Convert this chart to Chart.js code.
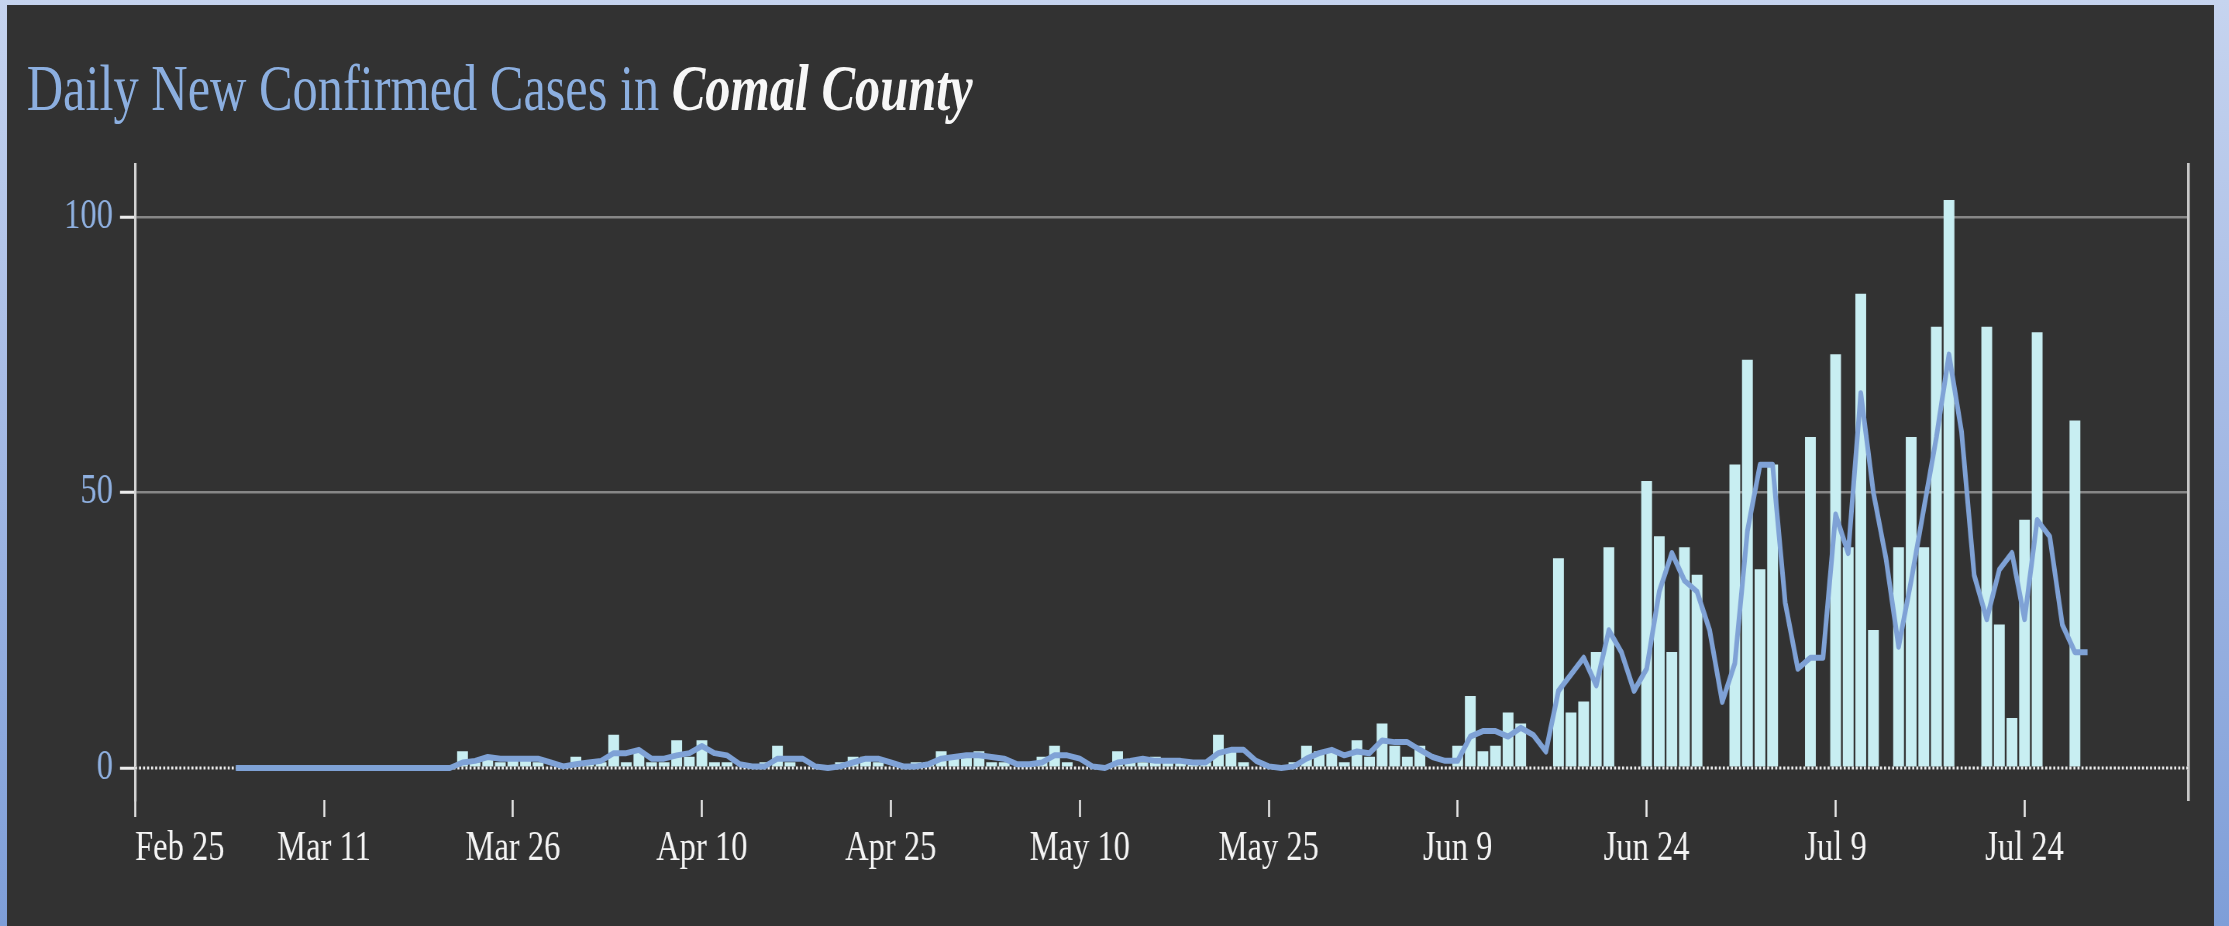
<!DOCTYPE html>
<html><head><meta charset="utf-8">
<script src="https://cdn.jsdelivr.net/npm/chart.js@4.4.1/dist/chart.umd.min.js"></script>
<style>
html,body{margin:0;padding:0;}
body{width:2229px;height:926px;overflow:hidden;position:relative;background:linear-gradient(180deg,#c6d4ef 0%,#a9bde6 40%,#7e9ed8 100%);}
#panel{position:absolute;left:7px;top:5px;width:2207px;height:921px;background:#323232;}
#wrap{position:absolute;left:0;top:0;width:2876px;height:926px;transform:scaleX(0.775);transform-origin:0 0;}
#title{position:absolute;left:34.5px;top:55.5px;font-family:'Liberation Serif','Times New Roman',serif;font-size:65px;line-height:65px;white-space:nowrap;color:#8cafe0;}
#title b{color:#f7f7f7;font-style:italic;font-weight:bold;}
canvas{position:absolute;left:0;top:0;}
</style></head>
<body>
<div id="panel"></div>
<div id="wrap">
<div id="title">Daily New Confirmed Cases in <b>Comal County</b></div>
<canvas id="c" width="2876" height="926" style="width:2876px;height:926px"></canvas>
</div>
<script>
// day numbers counted from Feb 25, 2020 (day 0)
const firstDataDay = 8; // Mar 4
const newCases = [
 0,0,0,0,0,0,0,0,0,0,
 0,0,0,0,0,0,0,0,3,1,
 2,1,2,2,1,0,0,2,1,1,
 6,1,3,1,1,5,2,5,1,1,
 0,0,1,4,1,0,0,0,1,2,
 2,1,0,0,1,1,3,2,2,3,
 1,1,0,1,2,4,1,0,0,0,
 3,1,1,2,1,1,1,1,6,3,
 1,0,0,0,1,4,3,3,1,5,
 2,8,4,2,4,0,0,4,13,3,
 4,10,8,0,0,38,10,12,21,40,
 0,0,52,42,21,40,35,0,0,55,
 74,36,55,0,0,60,0,75,40,86,
 25,0,40,60,40,80,103,0,0,80,
 26,9,45,79,0,0,63,0
];
const avgCases = [
 0,0,0,0,0,0,0,0,0,0,
 0,0,0,0,0,0,0,0,1,1.3,
 2,1.7,1.7,1.7,1.7,1,0.3,0.7,1,1.3,
 2.7,2.7,3.3,1.7,1.7,2.3,2.7,4,2.7,2.3,
 0.7,0.3,0.3,1.7,1.7,1.7,0.3,0,0.3,1,
 1.7,1.7,1,0.3,0.3,0.7,1.7,2,2.3,2.3,
 2,1.7,0.7,0.7,1,2.3,2.3,1.7,0.3,0,
 1,1.3,1.7,1.3,1.3,1.3,1,1,2.7,3.3,
 3.3,1.3,0.3,0,0.3,1.7,2.7,3.3,2.3,3,
 2.7,5,4.7,4.7,3.3,2,1.3,1.3,5.7,6.7,
 6.7,5.7,7.3,6,3,14,17,20,15,25,
 21,14,18,32,39,34,32,25,12,19,
 43,55,55,30,18,20,20,46,39,68,
 50,38,22,34,47,60,75,61,35,27,
 36,39,27,45,42,26,21,21
];
const tickDays = [0,15,30,45,60,75,90,105,120,135,150];
const tickLabels = ['Feb 25','Mar 11','Mar 26','Apr 10','Apr 25','May 10','May 25','Jun 9','Jun 24','Jul 9','Jul 24'];
const yTicks = [0,50,100];
const xMin = 0, xMax = 163;
const yMin = -5.8, yMax = 109.4;

const K = 0.775;
const canvasW = 2876, canvasH = 926;
const chartLeft = 135 / K, chartRight = 2188.3 / K, chartTop = 165, chartBottom = 800;
const serif = "'Liberation Serif','Times New Roman',serif";

const barPoints = newCases.map((v, i) => ({x: firstDataDay + i, y: v}));
const linePoints = avgCases.map((v, i) => ({x: firstDataDay + i, y: v}));

const zeroLine = {
  id: 'zeroLine',
  afterDatasetDraw(chart, args) {
    if (args.index !== 0) return;
    const ctx = chart.ctx, a = chart.chartArea;
    const y = chart.scales.y.getPixelForValue(0);
    ctx.save();
    ctx.lineWidth = 3;
    ctx.strokeStyle = '#323232';
    ctx.beginPath(); ctx.moveTo(a.left, y); ctx.lineTo(a.right, y); ctx.stroke();
    ctx.setLineDash([2.6, 2.6]);
    ctx.strokeStyle = '#f0f0f0';
    ctx.beginPath(); ctx.moveTo(a.left, y); ctx.lineTo(a.right, y); ctx.stroke();
    ctx.restore();
  }
};

new Chart(document.getElementById('c'), {
  type: 'bar',
  data: {
    datasets: [
      {type: 'bar', data: barPoints, backgroundColor: '#c8eef2', borderWidth: 0, barThickness: 10.3 / K, order: 2},
      {type: 'line', data: linePoints, borderColor: '#7fa2d6', borderWidth: 6, pointRadius: 0, fill: false, tension: 0, borderJoinStyle: 'round', borderCapStyle: 'butt', order: 1}
    ]
  },
  options: {
    responsive: false, animation: false, devicePixelRatio: 1, events: [],
    layout: {padding: {left: 0, right: canvasW - chartRight, top: chartTop, bottom: 0}},
    plugins: {legend: {display: false}, tooltip: {enabled: false}, title: {display: false}},
    scales: {
      x: {
        type: 'linear', min: xMin, max: xMax, offset: false,
        afterBuildTicks: s => { s.ticks = tickDays.map(v => ({value: v})).concat([{value: xMax}]); },
        afterFit: s => { s.height = canvasH - chartBottom; },
        grid: {drawOnChartArea: false, drawTicks: true, offset: false, tickLength: 17, tickWidth: 2.6,
               tickColor: c => (c.tick && c.tick.value === xMax) ? 'rgba(0,0,0,0)' : '#e8e8e8'},
        border: {display: false},
        ticks: {autoSkip: false, maxRotation: 0, minRotation: 0, align: 'inner', padding: 7, color: '#f4f4f4',
                font: {family: serif, size: 42},
                callback: v => { const i = tickDays.indexOf(v); return i >= 0 ? tickLabels[i] : ''; }}
      },
      y: {
        type: 'linear', position: 'left', min: yMin, max: yMax, z: 1,
        afterBuildTicks: s => { s.ticks = yTicks.map(v => ({value: v})); },
        afterFit: s => { s.width = chartLeft; },
        grid: {color: c => (c.tick && c.tick.value === 0) ? 'rgba(0,0,0,0)' : 'rgba(150,150,150,0.85)', lineWidth: 2.5,
               drawTicks: true, tickLength: 15 / K, tickWidth: 3, tickColor: '#ececec'},
        border: {display: true, color: '#d4d4d4', width: 3.2},
        ticks: {padding: 7 / K, color: '#8fb0e0', font: {family: serif, size: 42}, callback: v => String(v)}
      },
      y2: {
        type: 'linear', position: 'right', min: 0, max: 1,
        afterFit: s => { s.width = 0; },
        grid: {drawOnChartArea: false, drawTicks: false},
        border: {display: true, color: '#c8c8c8', width: 3.5},
        ticks: {display: false}
      }
    }
  },
  plugins: [zeroLine]
});
</script>
</body></html>
